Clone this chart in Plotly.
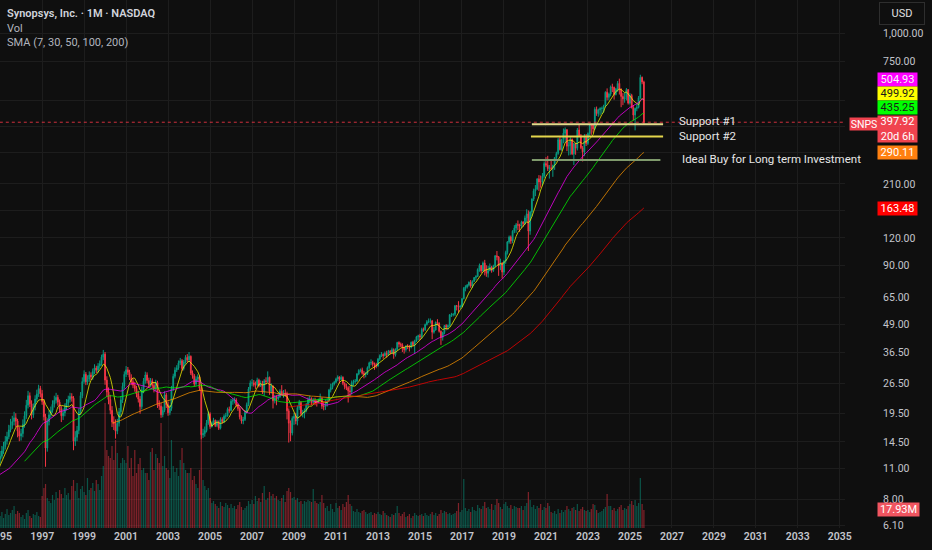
import numpy as np
import pandas as pd
import plotly.graph_objects as go

# ---------------- DATA ----------------
# monthly closes before the visible window (Feb 1992 - Dec 1994), only used for the SMAs
pre_closes = [9.2, 9.8, 8.9, 8.2, 8.6, 9.4, 10.1, 10.6, 11.2, 10.7, 11.5,
              12.0, 11.3, 10.5, 9.8, 10.4, 9.6, 8.9, 9.5, 10.2, 9.4, 8.8, 9.3,
              9.8, 10.4, 9.7, 9.1, 8.7, 9.3, 10.0, 10.6, 11.1, 11.8, 11.2, 12.1]

# monthly candles Jan 1995 - Sep 2025
closes = [
    12.5, 13.2, 13.8, 14.6, 15.3, 16.4, 17.2, 17.9, 18.6, 18.0, 16.2, 15.4,
    15.8, 17.4, 19.0, 21.2, 23.4, 21.5, 19.2, 20.8, 22.6, 23.8, 25.2, 23.9,
    22.0, 18.8, 13.6, 17.9, 19.2, 20.1, 21.4, 22.3, 23.0, 21.9, 20.4, 19.0,
    19.6, 20.8, 21.7, 22.5, 23.2, 22.8, 14.6, 15.2, 16.3, 19.8, 23.4, 27.1,
    29.2, 27.0, 27.8, 29.0, 28.4, 30.1, 31.2, 30.5, 31.8, 32.6, 34.9, 36.0,
    27.5, 24.3, 22.5, 20.1, 17.8, 17.5, 16.2, 17.6, 19.8, 22.4, 25.8, 29.2,
    30.6, 29.8, 28.3, 27.0, 26.1, 25.2, 23.8, 22.6, 20.9, 24.8, 27.2, 29.0,
    27.4, 26.2, 27.3, 26.0, 25.1, 26.8, 21.4, 21.0, 19.2, 20.1, 23.6, 21.3,
    19.6, 20.5, 25.2, 28.6, 30.5, 31.2, 32.8, 33.6, 31.0, 33.2, 34.8, 33.9,
    35.2, 29.6, 28.8, 26.4, 27.8, 28.4, 25.3, 15.6, 15.8, 16.3, 17.6, 19.4,
    17.0, 17.6, 18.1, 17.2, 17.8, 16.7, 18.3, 17.9, 18.9, 19.0, 20.3, 20.1,
    22.1, 22.3, 22.4, 21.2, 20.5, 18.8, 18.0, 18.3, 19.7, 21.3, 25.1, 26.7,
    26.7, 26.2, 26.2, 27.5, 25.9, 26.4, 24.3, 27.3, 27.1, 28.3, 24.4, 25.9,
    22.2, 23.0, 22.7, 23.1, 24.5, 23.9, 24.0, 23.8, 20.0, 17.6, 15.9, 18.5,
    18.9, 18.0, 20.7, 21.8, 19.4, 19.5, 20.0, 21.2, 22.4, 22.7, 21.8, 22.3,
    21.9, 21.8, 22.4, 22.8, 21.0, 20.9, 21.5, 22.2, 24.8, 25.5, 26.4, 26.9,
    27.8, 28.4, 27.7, 28.3, 26.6, 25.7, 25.4, 24.6, 24.4, 26.8, 27.1, 27.2,
    29.3, 30.4, 30.6, 29.5, 29.2, 29.4, 31.3, 32.9, 33.0, 32.4, 32.3, 31.8,
    34.2, 35.4, 35.9, 35.4, 36.3, 35.8, 37.1, 36.5, 37.7, 35.8, 37.8, 40.6,
    39.9, 39.6, 38.4, 37.7, 38.9, 38.8, 38.7, 40.7, 39.7, 41.2, 43.1, 43.5,
    43.1, 46.5, 46.3, 48.9, 50.3, 50.7, 50.8, 45.2, 46.2, 50.0, 49.6, 45.6,
    42.9, 45.0, 48.4, 47.7, 48.3, 54.1, 54.1, 54.4, 59.4, 59.3, 58.8, 58.9,
    63.9, 71.2, 72.1, 73.6, 75.8, 72.9, 76.6, 79.6, 80.5, 86.5, 90.2, 85.2,
    92.5, 85.5, 83.2, 85.6, 88.8, 85.6, 89.4, 99.7, 98.6, 89.7, 92.2, 84.2,
    94.4, 103.2, 115.0, 121.1, 116.3, 128.7, 132.9, 137.5, 137.2, 135.7, 141.3, 139.2,
    147.6, 154.0, 128.8, 157.1, 179.4, 195.0, 199.0, 221.3, 214.0, 213.9, 227.5, 259.2,
    254.6, 246.1, 247.8, 247.1, 254.3, 275.8, 288.0, 332.0, 299.4, 333.2, 355.4, 368.5,
    310.5, 312.8, 333.3, 286.7, 319.0, 303.7, 367.5, 345.8, 305.5, 292.5, 339.7, 319.3,
    353.8, 386.4, 386.3, 371.3, 455.0, 435.4, 451.8, 458.9, 459.0, 469.4, 543.2, 514.9,
    533.4, 573.6, 571.5, 530.6, 560.8, 595.1, 558.3, 519.6, 506.4, 514.8, 558.3, 485.4,
    525.5, 462.5, 428.9, 459.1, 464.0, 512.7, 633.4, 603.9, 397.92,
]

highs = [
    13.2, 13.9, 14.5, 15.4, 16.1, 17.3, 18.4, 19.0, 19.8, 19.5, 18.4, 16.9,
    16.6, 18.3, 19.9, 22.4, 24.6, 24.2, 22.3, 21.6, 23.5, 24.9, 26.2, 25.9,
    24.8, 22.6, 19.4, 18.5, 20.1, 20.9, 22.3, 23.4, 24.1, 23.6, 22.5, 21.0,
    20.5, 21.6, 22.6, 23.4, 24.1, 24.0, 23.3, 16.2, 17.1, 20.5, 24.3, 28.3,
    30.4, 29.9, 28.9, 30.1, 29.8, 31.0, 32.4, 31.9, 32.8, 33.7, 35.8, 37.6,
    36.8, 28.6, 25.5, 23.6, 21.0, 18.9, 18.3, 18.4, 20.6, 23.3, 26.8, 30.1,
    31.8, 31.5, 30.6, 29.2, 27.9, 27.0, 25.9, 24.6, 23.3, 25.7, 28.1, 30.0,
    29.8, 28.2, 28.1, 28.0, 26.8, 27.6, 27.3, 22.3, 21.7, 20.9, 24.5, 24.1,
    22.0, 21.2, 25.9, 29.4, 31.4, 32.1, 33.7, 34.6, 34.2, 33.9, 35.6, 36.0,
    36.8, 35.5, 30.4, 29.3, 28.6, 29.2, 28.9, 25.8, 16.6, 17.0, 18.2, 19.9,
    19.7, 17.9, 18.6, 18.3, 18.2, 18.1, 18.7, 18.7, 19.3, 19.6, 20.7, 20.9,
    22.6, 22.8, 23.0, 22.8, 21.6, 20.8, 19.1, 18.8, 20.1, 21.8, 25.6, 27.4,
    27.8, 27.5, 27.1, 28.2, 27.9, 27.4, 27.3, 27.8, 28.3, 30.1, 28.5, 26.6,
    26.0, 23.6, 23.5, 23.8, 25.0, 26.1, 24.8, 25.0, 24.4, 20.5, 18.1, 18.9,
    19.6, 19.6, 21.1, 22.4, 22.1, 20.2, 20.5, 21.7, 23.0, 23.4, 23.0, 22.8,
    22.9, 22.4, 22.7, 23.9, 23.0, 21.9, 22.5, 22.8, 25.1, 26.5, 26.8, 27.3,
    28.2, 28.9, 28.6, 28.9, 28.6, 26.9, 26.5, 25.8, 25.9, 27.4, 27.6, 27.8,
    29.6, 30.8, 31.0, 31.3, 30.2, 29.9, 31.7, 33.3, 34.1, 33.6, 33.0, 32.9,
    34.6, 35.9, 36.8, 36.3, 37.0, 37.3, 37.6, 37.6, 38.5, 38.2, 38.2, 40.9,
    41.1, 40.6, 40.3, 38.9, 39.5, 39.9, 39.6, 41.0, 41.3, 41.8, 43.5, 44.0,
    44.4, 47.3, 47.4, 49.4, 51.2, 52.1, 52.1, 51.3, 47.7, 50.5, 51.7, 50.0,
    46.0, 45.4, 48.7, 49.1, 48.9, 54.5, 55.2, 55.0, 59.9, 59.9, 62.3, 60.0,
    64.3, 72.2, 73.5, 74.4, 76.4, 77.6, 77.3, 80.0, 81.6, 87.6, 92.0, 90.5,
    94.0, 95.6, 90.4, 89.8, 92.1, 89.9, 90.9, 100.4, 104.8, 99.5, 96.8, 93.5,
    95.2, 105.1, 116.2, 123.0, 123.0, 130.0, 137.0, 140.0, 143.8, 139.0, 143.4, 142.8,
    151.3, 161.5, 159.5, 158.4, 181.0, 200.0, 207.5, 222.5, 230.0, 229.0, 235.0, 265.0,
    277.0, 281.0, 255.5, 267.0, 256.5, 277.0, 293.0, 338.0, 340.5, 335.0, 373.0, 377.0,
    369.5, 326.0, 340.0, 336.0, 322.0, 320.0, 375.0, 391.0, 352.0, 311.0, 352.0, 352.0,
    358.0, 390.0, 389.0, 390.0, 465.0, 468.0, 458.0, 465.0, 468.0, 477.0, 548.0, 565.0,
    541.0, 582.0, 593.0, 575.0, 568.0, 610.0, 625.0, 566.0, 538.0, 540.0, 567.0, 559.0,
    538.0, 534.0, 475.0, 463.0, 480.0, 522.0, 651.0, 639.0, 612.0,
]

lows = [
    11.6, 12.2, 12.8, 13.4, 14.1, 14.9, 16.0, 16.6, 17.2, 16.9, 15.2, 14.6,
    14.7, 15.2, 16.8, 18.4, 20.5, 20.8, 18.3, 18.6, 20.1, 21.9, 23.1, 23.0,
    21.3, 18.1, 11.2, 13.1, 17.2, 18.6, 19.6, 20.7, 21.6, 21.1, 19.6, 17.8,
    18.2, 18.9, 20.1, 20.9, 21.8, 22.0, 13.3, 13.9, 14.6, 15.7, 19.2, 22.8,
    26.5, 26.1, 26.2, 27.0, 27.5, 27.6, 29.3, 29.6, 29.7, 30.9, 31.9, 33.8,
    26.2, 23.1, 21.4, 19.3, 16.9, 16.4, 15.0, 15.7, 17.0, 19.0, 21.7, 25.1,
    28.4, 29.0, 27.5, 26.1, 25.3, 24.4, 23.0, 21.8, 19.4, 20.3, 24.0, 26.5,
    26.6, 25.4, 25.6, 25.3, 24.2, 24.5, 20.6, 20.2, 18.6, 18.7, 19.7, 20.6,
    19.0, 19.1, 20.0, 24.6, 28.0, 29.9, 30.6, 32.1, 30.2, 30.4, 32.6, 33.0,
    33.2, 29.0, 27.9, 25.8, 25.9, 27.0, 24.6, 14.9, 15.1, 15.3, 16.0, 17.3,
    16.6, 16.8, 17.3, 16.9, 16.9, 16.4, 16.5, 17.5, 17.6, 18.4, 18.8, 19.6,
    19.9, 21.3, 21.6, 20.9, 20.0, 18.3, 17.5, 17.4, 18.0, 19.4, 21.0, 24.6,
    25.8, 25.7, 25.1, 25.9, 25.5, 25.6, 23.8, 23.4, 26.3, 26.8, 23.6, 23.9,
    20.5, 21.6, 21.2, 22.3, 22.9, 23.4, 22.9, 23.1, 18.3, 14.4, 14.6, 15.5,
    17.3, 17.4, 17.2, 20.2, 19.0, 18.7, 18.5, 19.7, 20.6, 21.7, 21.2, 21.4,
    21.2, 20.9, 21.6, 22.0, 20.4, 20.1, 20.2, 20.9, 22.0, 24.2, 25.0, 26.0,
    26.6, 27.2, 26.6, 27.4, 26.1, 25.0, 24.8, 21.8, 23.2, 23.7, 25.9, 26.5,
    27.0, 28.9, 29.8, 29.1, 28.0, 28.3, 29.0, 30.9, 32.1, 31.6, 30.6, 31.1,
    31.6, 33.6, 34.9, 34.3, 35.1, 34.7, 35.4, 35.9, 36.1, 34.3, 35.1, 37.4,
    38.6, 38.7, 36.8, 36.2, 36.9, 37.9, 37.0, 38.2, 39.0, 36.3, 40.8, 41.6,
    41.6, 42.2, 45.4, 45.8, 48.4, 49.6, 49.4, 42.0, 44.5, 45.9, 48.4, 45.0,
    39.6, 41.4, 44.2, 46.1, 46.2, 47.8, 52.9, 53.2, 53.5, 56.6, 55.4, 57.6,
    58.5, 63.5, 69.0, 71.0, 72.5, 71.6, 71.5, 76.0, 77.5, 80.0, 84.5, 83.4,
    84.6, 81.4, 80.2, 79.6, 84.9, 83.7, 84.4, 88.6, 95.1, 81.0, 85.9, 78.8,
    81.6, 91.8, 101.0, 113.0, 112.8, 113.6, 126.0, 126.5, 130.0, 127.7, 132.9, 134.8,
    137.6, 142.0, 104.8, 124.0, 149.5, 176.0, 185.0, 197.0, 195.0, 202.0, 207.0, 223.5,
    250.0, 240.0, 222.0, 242.0, 226.0, 243.0, 272.0, 284.0, 297.0, 296.0, 320.0, 322.0,
    295.0, 282.0, 284.0, 283.0, 255.5, 284.0, 297.0, 342.0, 301.0, 265.0, 280.0, 311.0,
    314.0, 343.0, 349.0, 357.0, 368.0, 425.0, 421.0, 427.0, 433.0, 440.0, 465.0, 499.0,
    500.0, 520.0, 544.0, 503.0, 525.0, 545.0, 530.0, 465.0, 475.0, 487.0, 499.0, 478.0,
    478.0, 459.0, 405.0, 365.7, 446.0, 459.0, 507.0, 590.0, 389.0,
]

# monthly volume, millions of shares
volumes = [
    12, 16, 10, 14, 19, 13, 15, 18, 22, 14, 17, 15,
    11, 13, 9, 15, 18, 12, 10, 14, 13, 16, 12, 11,
    32, 40, 44, 30, 27, 25, 33, 28, 36, 30, 38, 34,
    30, 40, 33, 35, 28, 42, 48, 37, 45, 30, 39, 42,
    36, 33, 50, 38, 40, 45, 37, 48, 44, 38, 52, 62,
    125, 78, 72, 70, 82, 68, 88, 75, 60, 65, 70, 68,
    65, 82, 60, 70, 52, 78, 55, 64, 70, 58, 60, 55,
    55, 48, 76, 80, 58, 74, 70, 65, 105, 62, 72, 60,
    58, 50, 88, 62, 56, 60, 52, 68, 80, 65, 58, 55,
    55, 60, 48, 52, 44, 40, 58, 105, 48, 42, 38, 40,
    30, 25, 27, 24, 22, 20, 26, 22, 21, 25, 23, 20,
    24, 20, 22, 19, 23, 26, 21, 18, 20, 22, 27, 24,
    28, 24, 32, 27, 30, 26, 35, 42, 28, 30, 36, 32,
    34, 30, 32, 28, 27, 30, 33, 26, 37, 40, 36, 30,
    31, 28, 30, 26, 27, 24, 27, 26, 28, 27, 26, 39,
    27, 25, 24, 26, 33, 25, 20, 22, 17, 24, 19, 16,
    25, 20, 22, 18, 24, 21, 26, 33, 24, 22, 17, 16,
    19, 16, 15, 17, 18, 16, 14, 15, 16, 13, 15, 14,
    16, 14, 13, 17, 15, 13, 12, 11, 14, 13, 15, 22,
    15, 12, 14, 16, 11, 12, 14, 10, 12, 15, 13, 12,
    13, 14, 12, 15, 13, 12, 14, 16, 13, 15, 12, 14,
    18, 15, 17, 16, 14, 15, 13, 14, 15, 17, 25, 16,
    18, 49, 20, 17, 19, 16, 21, 18, 17, 23, 20, 19,
    22, 26, 20, 21, 19, 24, 18, 23, 29, 25, 21, 19,
    24, 26, 22, 20, 23, 19, 22, 21, 20, 20, 22, 18,
    22, 25, 36, 28, 21, 23, 19, 22, 20, 24, 18, 21,
    20, 25, 22, 16, 15, 17, 14, 19, 15, 18, 16, 18,
    22, 19, 17, 20, 21, 18, 24, 17, 19, 21, 18, 17,
    18, 16, 19, 24, 23, 18, 15, 16, 17, 19, 21, 34,
    22, 22, 18, 20, 17, 19, 21, 23, 18, 20, 19, 22,
    24, 27, 23, 28, 22, 25, 50, 24, 17.93,
]

sma_periods = [7, 30, 50, 100, 200]
sma_colors = ["#FFFF00", "#FF00FF", "#00FF00", "#FF9800", "#FF0000"]

# drawings on the chart
support_names = ["Support #1", "Support #2", "Ideal Buy for Long term Investment"]
support_levels = [390.0, 343.0, 269.0]
support_start = ["2020-05-01", "2020-04-15", "2020-05-01"]
support_end = ["2026-08-01", "2026-08-01", "2026-06-15"]
support_colors = ["#e3d98a", "#e4d64c", "#7f9a6c"]

price_ticks = [1000, 750, 500, 380, 290, 210, 160, 120, 90, 65, 49, 36.5, 26.5, 19.5, 14.5, 11, 8, 6.1]
price_tick_text = ["1,000.00", "750.00", "", "", "", "210.00", "", "120.00", "90.00", "65.00",
                   "49.00", "36.50", "26.50", "19.50", "14.50", "11.00", "8.00", "6.10"]
year_ticks = list(range(1995, 2036, 2))

# ---------------- BUILD ----------------
pre_dates = pd.date_range("1992-02-01", periods=len(pre_closes), freq="MS")
dates = pd.date_range("1995-01-01", periods=len(closes), freq="MS")
opens = [pre_closes[-1]] + closes[:-1]

all_close = pd.Series(pre_closes + closes, index=pre_dates.append(dates))

UP = "#089981"
DN = "#F23645"
BG = "#0f0f0f"
GRID = "#1d1d1d"
FONT = "Roboto"

vol_colors = ["rgba(8,153,129,0.5)" if c >= o else "rgba(242,54,69,0.5)" for o, c in zip(opens, closes)]

fig = go.Figure()

fig.add_trace(go.Bar(x=dates, y=volumes, marker=dict(color=vol_colors, line=dict(width=0)),
                     xaxis="x", yaxis="y", hoverinfo="skip"))

fig.add_trace(go.Candlestick(x=dates, open=opens, high=highs, low=lows, close=closes,
                             xaxis="x", yaxis="y2",
                             increasing=dict(line=dict(color=UP, width=1), fillcolor=UP),
                             decreasing=dict(line=dict(color=DN, width=1), fillcolor=DN),
                             whiskerwidth=0))

for n, col in zip(sma_periods, sma_colors):
    s = all_close.rolling(n).mean().dropna()
    fig.add_trace(go.Scatter(x=s.index, y=s.values, mode="lines", xaxis="x", yaxis="y2",
                             line=dict(color=col, width=1), opacity=0.72, hoverinfo="skip"))

# last-price dotted line
fig.add_trace(go.Scatter(x=["1994-06-01", "2036-01-01"], y=[closes[-1], closes[-1]], mode="lines",
                         xaxis="x", yaxis="y2", line=dict(color="rgba(242,54,69,0.85)", width=1, dash="dot"),
                         hoverinfo="skip"))

for lvl, s0, s1, col in zip(support_levels, support_start, support_end, support_colors):
    fig.add_trace(go.Scatter(x=[s0, s1], y=[lvl, lvl], mode="lines", xaxis="x", yaxis="y2",
                             line=dict(color=col, width=2), hoverinfo="skip"))

W, H = 932, 550
L, R, T, B = 0, 87, 0, 22
PW, PH = W - L - R, H - T - B

def px(xp):
    return xp / PW

def py(yp):
    return 1 - yp / PH

ann = []
ann.append(dict(text="Synopsys, Inc. · 1M · NASDAQ", x=px(5), y=py(14), font=dict(size=11, color="#d1d4dc", weight=600)))
ann.append(dict(text="Vol", x=px(5), y=py(28.5), font=dict(size=11, color="#b2b5be")))
ann.append(dict(text="SMA (7, 30, 50, 100, 200)", x=px(5), y=py(43), font=dict(size=11, color="#b2b5be")))
for a in ann:
    a.update(xref="paper", yref="paper", xanchor="left", yanchor="middle", showarrow=False, font_family=FONT)

for name, xx, yy in zip(support_names, [677, 677, 680], [121, 136, 159]):
    ann.append(dict(text=name, x=px(xx), y=py(yy), xref="paper", yref="paper", xanchor="left",
                    yanchor="middle", showarrow=False, font=dict(family=FONT, size=11.5, color="#e6e6e6")))

labels = [
    ("504.93", 80.0, "#FF00FF", "#f5f5f5"),
    ("499.92", 93.7, "#FFFF00", "#1a1a1a"),
    ("435.25", 107.5, "#00FF00", "#1a1a1a"),
    ("290.11", 152.7, "#FF8010", "#ffffff"),
    ("163.48", 208.3, "#FF0000", "#ffffff"),
    ("17.93M", 509.0, "#F05560", "#ffffff"),
]
for t, yy, bg, fc in labels:
    ann.append(dict(text=t, x=px(877), y=py(yy), xref="paper", yref="paper", xanchor="left", yanchor="middle",
                    showarrow=False, bgcolor=bg, borderpad=1, width=37 if t != "17.93M" else 39, height=11,
                    font=dict(family=FONT, size=11, color=fc)))
ann.append(dict(text="397.92<br>20d 6h", x=px(877), y=py(129.2), xref="paper", yref="paper", xanchor="left",
                yanchor="middle", showarrow=False, bgcolor="#F0434F", borderpad=1, width=37, height=24,
                font=dict(family=FONT, size=11, color="#ffffff")))
ann.append(dict(text="SNPS", x=px(848.5), y=py(123.5), xref="paper", yref="paper", xanchor="left", yanchor="middle",
                showarrow=False, bgcolor="#F0434F", borderpad=1, width=26, height=10,
                font=dict(family=FONT, size=10.5, color="#ffffff")))
ann.append(dict(text="USD", x=px(902), y=py(13.5), xref="paper", yref="paper", xanchor="center", yanchor="middle",
                showarrow=False, bgcolor=BG, bordercolor="#2e2e2e", borderwidth=1, borderpad=3, width=38, height=15,
                font=dict(family=FONT, size=11, color="#e0e0e0")))

lo, hi = np.log10(5.94), np.log10(1412)

fig.update_layout(
    width=W, height=H, margin=dict(l=L, r=R, t=T, b=B, pad=0),
    paper_bgcolor=BG, plot_bgcolor=BG, showlegend=False,
    font=dict(family=FONT, color="#b2b5be"),
    bargap=0.25,
    xaxis=dict(type="date", range=["1994-12-30", "2035-04-01"], rangeslider=dict(visible=False),
               tickvals=[f"{y}-01-01" for y in year_ticks], ticktext=[str(y) for y in year_ticks],
               showgrid=True, gridcolor=GRID, gridwidth=1, zeroline=False, showline=False,
               ticks="", tickfont=dict(family=FONT, size=10.5, color="#c3c5cc", weight=600),
               ticklabeloverflow="allow",
               automargin=False, fixedrange=True),
    yaxis=dict(range=[0, 528], visible=False, showgrid=False, zeroline=False, fixedrange=True),
    yaxis2=dict(type="log", range=[lo, hi], overlaying="y", side="right",
                tickvals=price_ticks, ticktext=price_tick_text,
                showgrid=True, gridcolor=GRID, gridwidth=1, zeroline=False, showline=False,
                ticks="outside", ticklen=35, tickcolor="rgba(0,0,0,0)",
                tickfont=dict(family=FONT, size=10.5, color="#c3c5cc"),
                automargin=False, fixedrange=True),
    annotations=ann,
)

fig.write_html("out.html", config={"displayModeBar": False},
               post_script="document.body.style.margin='0px';document.body.style.background='#0f0f0f';")
